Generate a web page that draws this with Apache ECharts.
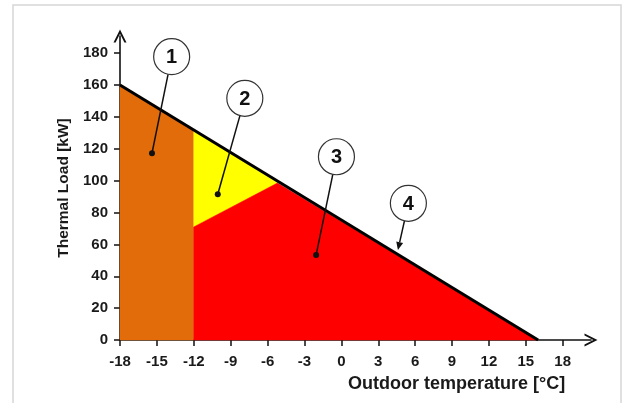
<!DOCTYPE html>
<html><head><meta charset="utf-8">
<script src="https://cdn.jsdelivr.net/npm/echarts@6/dist/echarts.min.js"></script>
<style>html,body{margin:0;padding:0;background:#fff}#c{width:624px;height:403px}</style>
</head><body><div id="c"></div>
<script>
// Tick labels
const xTicks = [-18,-15,-12,-9,-6,-3,0,3,6,9,12,15,18];
const yTicks = [0,20,40,60,80,100,120,140,160,180];
// Thermal load line (4)
const loadLine = [[-18,160],[16,0]];
// Zones
const zone1 = [[-18,0],[-18,160],[-12,131.8],[-12,0]];
const zone2 = [[-12,131.8],[-5.2,98.5],[-12,71]];
const zone3 = [[-12,0],[-12,71],[-5.2,98.5],[16,0]];
const zoneColors = ['#E36C0A','#FFFF00','#FF0000'];
// Annotation markers
const markerLabels = ['1','2','3','4'];
const markerCircleX = [-13.8,-7.85,-0.4,5.45];
const markerCircleY = [177.8,151.7,115,85.8];
const markerTargetX = [-15.4,-10.05,-2.05,4.6];
const markerTargetY = [117.2,91.5,53.4,56.5];
const markerTargetType = ['dot','dot','dot','arrow'];

const zones = [zone1, zone2, zone3];
const FONT = "'Liberation Sans', Arial, sans-serif";
const chart = echarts.init(document.getElementById('c'), null, {renderer:'canvas'});
const chevron = 'path://M0,10 L5,0 L10,10 L8.4,10 L5,3.2 L1.6,10 Z';

const option = {
  backgroundColor: '#fff',
  animation: false,
  grid: {left:120, right:33, top:36, bottom:63, containLabel:false},
  xAxis: {
    type:'value', min:-18, max:20.3,
    axisLine:{show:true, onZero:false, lineStyle:{color:'#111', width:1.6}, symbol:['none', chevron], symbolSize:[13,13]},
    axisTick:{show:true, length:6, lineStyle:{color:'#111', width:1.5}, customValues: xTicks},
    axisLabel:{color:'#1a1a1a', fontFamily:FONT, fontWeight:'bold', fontSize:15, margin:14, customValues: xTicks},
    splitLine:{show:false}
  },
  yAxis: {
    type:'value', min:0, max:190.8,
    name:'Thermal Load [kW]', nameLocation:'middle', nameGap:46, nameRotate:90,
    nameTextStyle:{color:'#1a1a1a', fontFamily:FONT, fontWeight:'bold', fontSize:15.5},
    axisLine:{show:true, onZero:false, lineStyle:{color:'#111', width:1.6}, symbol:['none', chevron], symbolSize:[13,13]},
    axisTick:{show:true, length:6, lineStyle:{color:'#111', width:1.5}, customValues: yTicks},
    axisLabel:{color:'#1a1a1a', fontFamily:FONT, fontWeight:'bold', fontSize:15, margin:12, customValues: yTicks},
    splitLine:{show:false}
  },
  graphic: [
    {type:'polyline', silent:true, shape:{points:[[13,403],[13,5],[621,5],[621,403]]}, style:{stroke:'#d6d6d6', lineWidth:1.5, fill:null}},
    {type:'text', left:348, top:375, style:{text:'Outdoor temperature [°C]', fill:'#1a1a1a', font:"bold 18px 'Liberation Sans', Arial, sans-serif"}}
  ],
  series: [
    {
      type:'custom', name:'zones', clip:false, z:1,
      data: zones.map((z,i)=>[i]),
      renderItem: function(params, api){
        const pts = zones[params.dataIndex].map(p=>api.coord(p));
        return {type:'polygon', shape:{points:pts}, style:{fill:zoneColors[params.dataIndex], stroke:zoneColors[params.dataIndex], lineWidth:0.5}};
      }
    },
    {
      type:'line', name:'load', data: loadLine, symbol:'none', z:3,
      lineStyle:{color:'#000', width:3}
    },
    {
      type:'custom', name:'markers', clip:false, z:5,
      data: markerLabels.map((l,i)=>[markerCircleX[i], markerCircleY[i]]),
      renderItem: function(params, api){
        const i = params.dataIndex;
        const c = api.coord([markerCircleX[i], markerCircleY[i]]);
        const t = api.coord([markerTargetX[i], markerTargetY[i]]);
        const r = 18;
        const dx = t[0]-c[0], dy = t[1]-c[1];
        const len = Math.sqrt(dx*dx+dy*dy);
        const ux = dx/len, uy = dy/len;
        const s = [c[0]+ux*r, c[1]+uy*r];
        const children = [];
        if (markerTargetType[i] === 'arrow') {
          const ah = 8, aw = 3.5;
          const base = [t[0]-ux*ah, t[1]-uy*ah];
          children.push({type:'line', shape:{x1:s[0], y1:s[1], x2:base[0], y2:base[1]}, style:{stroke:'#111', lineWidth:1.5}});
          children.push({type:'polygon', shape:{points:[t, [base[0]-uy*aw, base[1]+ux*aw], [base[0]+uy*aw, base[1]-ux*aw]]}, style:{fill:'#111'}});
        } else {
          children.push({type:'line', shape:{x1:s[0], y1:s[1], x2:t[0], y2:t[1]}, style:{stroke:'#111', lineWidth:1.5}});
          children.push({type:'circle', shape:{cx:t[0], cy:t[1], r:3}, style:{fill:'#111'}});
        }
        children.push({type:'circle', shape:{cx:c[0], cy:c[1], r:r}, style:{fill:'#fff', stroke:'#333', lineWidth:1.2}});
        children.push({type:'text', style:{text:markerLabels[i], x:c[0], y:c[1]+1, align:'center', verticalAlign:'middle', fill:'#111', font:"bold 20px 'Liberation Sans', Arial, sans-serif"}});
        return {type:'group', children: children};
      }
    }
  ]
};
chart.setOption(option);
</script>
</body></html>
